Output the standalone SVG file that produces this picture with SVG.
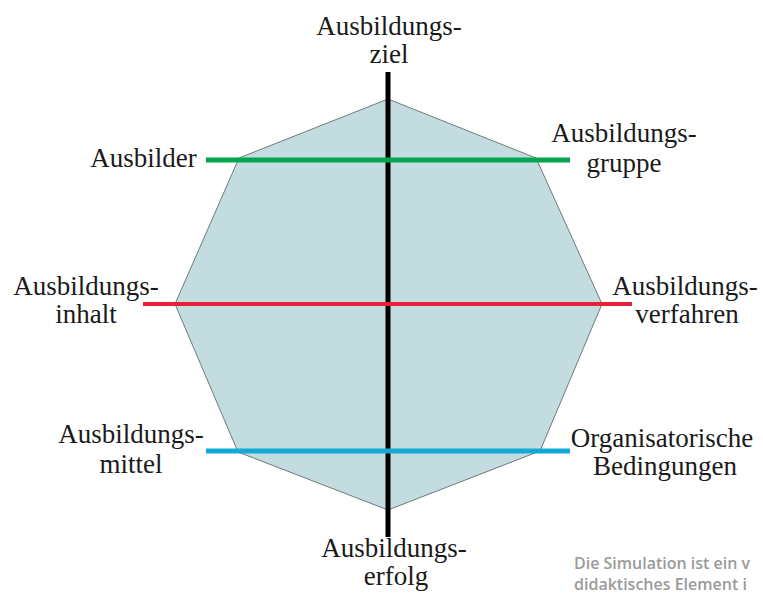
<svg xmlns="http://www.w3.org/2000/svg" width="763" height="596" viewBox="0 0 763 596">
<style>
.t{font-family:'Liberation Serif','Times New Roman',serif;font-size:27px;fill:#1a1a1a;text-anchor:middle}
.w{font-family:'Open Sans','Noto Sans',sans-serif;font-size:16px;font-weight:600;fill:#9a9a9a}
.ln{fill:none;stroke-linecap:butt}
</style>
<rect width="763" height="596" fill="#ffffff"/>
<g id="octagon">
<polygon points="388,99 536,158 602,304 540,451 388,510 238,452 175,304 239,158" fill="#c3dce0" stroke="#6f7a7c" stroke-width="1"/>
</g>
<g id="connectors">
<line class="ln" x1="388" y1="72" x2="388" y2="537" stroke="#000" stroke-width="5"/>
<line class="ln" x1="206" y1="160" x2="570" y2="160" stroke="#00a550" stroke-width="5"/>
<line class="ln" x1="143" y1="304" x2="632" y2="304" stroke="#e5223a" stroke-width="4"/>
<line class="ln" x1="206" y1="451" x2="570" y2="451" stroke="#12aad4" stroke-width="5"/>
</g>
<g id="ziel" class="t">
<text x="389" y="35">Ausbildungs-</text>
<text x="389" y="63">ziel</text>
</g>
<g id="ausbilder" class="t">
<text x="143.5" y="167">Ausbilder</text>
</g>
<g id="gruppe" class="t">
<text x="624" y="142">Ausbildungs-</text>
<text x="624" y="172">gruppe</text>
</g>
<g id="inhalt" class="t">
<text x="86" y="295">Ausbildungs-</text>
<text x="86" y="323">inhalt</text>
</g>
<g id="verfahren" class="t">
<text x="685" y="295">Ausbildungs-</text>
<text x="687" y="323">verfahren</text>
</g>
<g id="mittel" class="t">
<text x="131" y="443">Ausbildungs-</text>
<text x="131" y="473">mittel</text>
</g>
<g id="bedingungen" class="t">
<text x="662" y="447">Organisatorische</text>
<text x="665" y="475">Bedingungen</text>
</g>
<g id="erfolg" class="t">
<text x="394" y="557">Ausbildungs-</text>
<text x="396" y="585">erfolg</text>
</g>
<g id="watermark" class="w">
<text x="574" y="569">Die Simulation ist ein v</text>
<text x="574" y="590">didaktisches Element i</text>
</g>
</svg>
